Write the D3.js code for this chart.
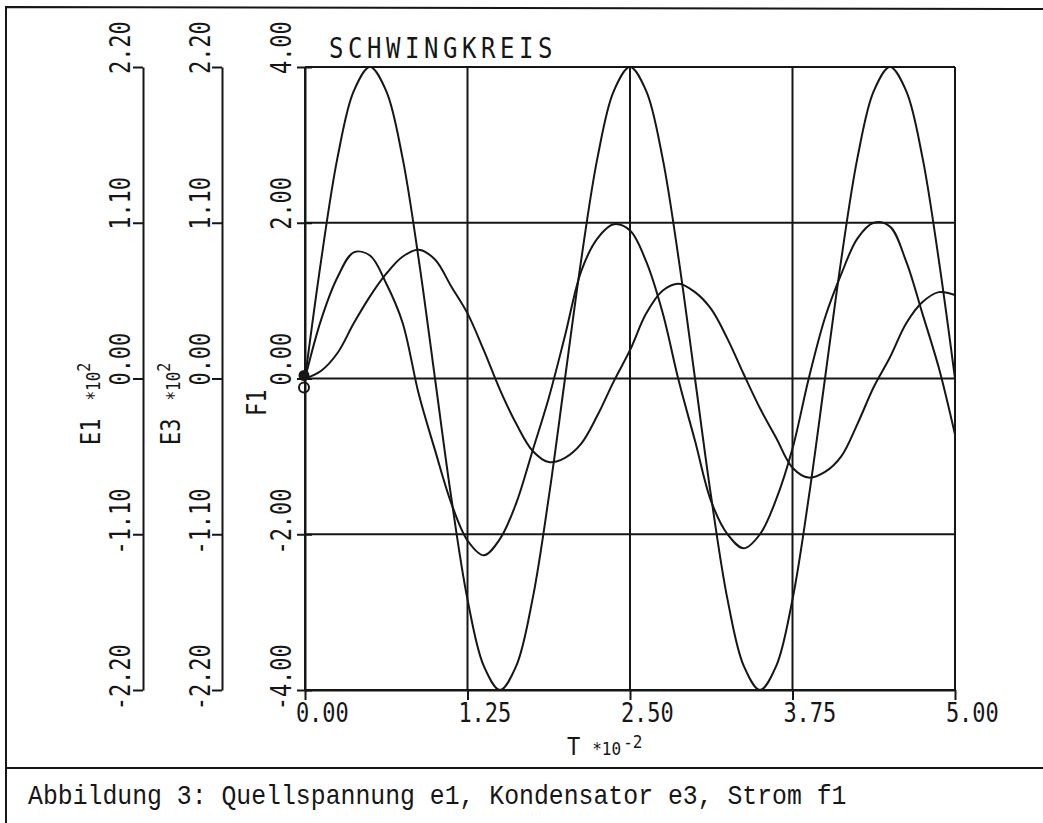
<!DOCTYPE html>
<html><head><meta charset="utf-8">
<script src="https://cdn.jsdelivr.net/npm/d3@7/dist/d3.min.js"></script>
<style>
html,body{margin:0;padding:0;background:#fff;}
svg{display:block;}
</style></head>
<body>
<script>
// ---- data (time in units of 1e-2 s) ----
const T = [0,0.125,0.25,0.375,0.5,0.625,0.75,0.875,
           1,1.125,1.25,1.375,1.5,1.625,1.75,1.875,
           2,2.125,2.25,2.375,2.5,2.625,2.75,2.875,
           3,3.125,3.25,3.375,3.5,3.625,3.75,3.875,
           4,4.125,4.25,4.375,4.5,4.625,4.75,4.875,5];
// source voltage e1 (x 10^2)
const E1 = [0,0.84,1.56,2.03,2.20,2.03,1.56,0.84,
            0,-0.84,-1.56,-2.03,-2.20,-2.03,-1.56,-0.84,
            0,0.84,1.56,2.03,2.20,2.03,1.56,0.84,
            0,-0.84,-1.56,-2.03,-2.20,-2.03,-1.56,-0.84,
            0,0.84,1.56,2.03,2.20,2.03,1.56,0.84,0];
// current f1
const F1 = [0,0.76,1.30,1.62,1.58,1.22,0.72,-0.20,
            -0.92,-1.60,-2.08,-2.27,-2.06,-1.60,-0.93,-0.25,
            0.55,1.38,1.80,1.98,1.90,1.50,0.85,-0.03,
            -0.80,-1.58,-2.00,-2.18,-2.00,-1.55,-0.90,0.00,
            0.78,1.34,1.80,2.00,1.95,1.50,0.83,0.14,-0.72];
// capacitor voltage e3 (x 10^2)
const E3 = [0,0.055,0.18,0.39,0.58,0.74,0.86,0.91,
            0.84,0.65,0.46,0.20,-0.08,-0.32,-0.51,-0.59,
            -0.56,-0.46,-0.26,-0.02,0.20,0.46,0.62,0.67,
            0.61,0.49,0.28,0.03,-0.21,-0.42,-0.63,-0.70,
            -0.66,-0.55,-0.32,-0.06,0.15,0.39,0.54,0.61,0.59];

const tTicks = [0,1.25,2.5,3.75,5];
const tTickLabels = ["0.00","1.25","2.50","3.75","5.00"];
const eTicks = [-2.2,-1.1,0,1.1,2.2];
const eTickLabels = ["-2.20","-1.10","0.00","1.10","2.20"];
const fTicks = [-4,-2,0,2,4];
const fTickLabels = ["-4.00","-2.00","0.00","2.00","4.00"];
const title = "SCHWINGKREIS";
const caption = "Abbildung 3: Quellspannung e1, Kondensator e3, Strom f1";

// ---- layout ----
const W = 1043, H = 823;
const INK = "#161616";
const MONO = "'DejaVu Sans Mono', monospace";
const svg = d3.select("body").append("svg").attr("width", W).attr("height", H);
svg.append("rect").attr("width", W).attr("height", H).attr("fill", "#fff");

const x = d3.scaleLinear().domain([0,5]).range([305,955]);
const yF = d3.scaleLinear().domain([-4,4]).range([690,67]);
const yE1 = d3.scaleLinear().domain([-2.2,2.2]).range([690,67]);
const yE3 = d3.scaleLinear().domain([-2.2,2.2]).range([690,67]);

// frame
svg.append("path").attr("d", `M6,${H} L6,7 L${W},9`).attr("fill","none").attr("stroke",INK).attr("stroke-width",2);
svg.append("line").attr("x1",6).attr("x2",W).attr("y1",768).attr("y2",768).attr("stroke",INK).attr("stroke-width",2);

// grid
const grid = svg.append("g").attr("stroke", INK).attr("stroke-width", 2);
grid.selectAll(".h").data(fTicks).join("line")
  .attr("x1", x(0)).attr("x2", x(5)).attr("y1", d=>yF(d)).attr("y2", d=>yF(d));
grid.selectAll(".v").data(tTicks).join("line")
  .attr("x1", d=>x(d)).attr("x2", d=>x(d)).attr("y1", yF(4)).attr("y2", yF(-4));

const FS = 22, PITCH = FS*0.602, SY = 1.25;

function styleVerticalAxis(g, labels, baseOff){
  g.select(".domain").attr("stroke", INK).attr("stroke-width", 2);
  g.selectAll(".tick line").attr("stroke", INK).attr("stroke-width", 2);
  g.selectAll(".tick text").each(function(d,i){
    const s = labels[i];
    const k = s.search(/\d/);
    d3.select(this)
      .attr("x", -(k+0.5)*PITCH).attr("y", 0).attr("dy", null)
      .attr("text-anchor","start")
      .attr("transform", `translate(${baseOff},0) rotate(-90) scale(1,${SY})`)
      .attr("fill", INK).attr("font-family", MONO).attr("font-size", FS)
      .text(s);
  });
}

// E1 axis
const gE1 = svg.append("g").attr("transform","translate(143,0)")
  .call(d3.axisLeft(yE1).tickValues(eTicks).tickSizeInner(10).tickSizeOuter(0).tickFormat((d,i)=>eTickLabels[i]));
styleVerticalAxis(gE1, eTickLabels, -13);
// E3 axis
const gE3 = svg.append("g").attr("transform","translate(222,0)")
  .call(d3.axisLeft(yE3).tickValues(eTicks).tickSizeInner(10).tickSizeOuter(0).tickFormat((d,i)=>eTickLabels[i]));
styleVerticalAxis(gE3, eTickLabels, -12);
// F1 axis
const gF = svg.append("g").attr("transform","translate(305,0)")
  .call(d3.axisLeft(yF).tickValues(fTicks).tickSizeInner(8).tickSizeOuter(0).tickFormat((d,i)=>fTickLabels[i]));
styleVerticalAxis(gF, fTickLabels, -14);
gF.selectAll(".tick line").attr("x2", 7).attr("x1", -8);

// T axis
const gT = svg.append("g").attr("transform", `translate(0,${yF(-4)})`)
  .call(d3.axisBottom(x).tickValues(tTicks).tickSizeInner(10).tickSizeOuter(0).tickFormat((d,i)=>tTickLabels[i]));
gT.select(".domain").attr("stroke", INK).attr("stroke-width", 2);
gT.selectAll(".tick line").attr("stroke", INK).attr("stroke-width", 2);
gT.selectAll(".tick text").each(function(d,i){
  d3.select(this).attr("x",0).attr("y",0).attr("dy",null)
    .attr("text-anchor","start")
    .attr("transform", `translate(${-0.5*PITCH-3},32) scale(1,1.2)`)
    .attr("fill", INK).attr("font-family", MONO).attr("font-size", FS)
    .text(tTickLabels[i]);
});

// axis titles (rotated)
function vTitle(xb, ybot, name){
  const t = svg.append("text")
    .attr("transform", `translate(${xb},${ybot}) rotate(-90) scale(1,1.2)`)
    .attr("font-family", MONO).attr("fill", INK).attr("font-size", FS);
  t.append("tspan").text(name);
  return t;
}
function addExp(t, exp){
  t.append("tspan").attr("dx", 18).attr("font-size", 16).text("*10");
  t.append("tspan").attr("dy", -8).attr("font-size", 15).text(exp);
}
addExp(vTitle(100, 445, "E1"), "2");
addExp(vTitle(180, 445, "E3"), "2");
vTitle(266, 416, "F1");

// T title
const tt = svg.append("text").attr("transform","translate(567,755) scale(1,1.15)")
  .attr("font-family", MONO).attr("fill", INK).attr("font-size", FS);
tt.append("tspan").text("T");
tt.append("tspan").attr("dx", 12).attr("font-size", 16).text("*10");
tt.append("tspan").attr("dy", -6).attr("dx", 2).attr("font-size", 16).text("-2");

// chart title
svg.append("text").attr("transform","translate(329,58) scale(1,1.2)")
  .attr("font-family", MONO).attr("font-size", 24).attr("letter-spacing", 4.55)
  .attr("fill", INK).text(title);

// curves
const curve = d3.curveCatmullRom.alpha(0.5);
const lineE1 = d3.line().x((d,i)=>x(T[i])).y(d=>yE1(d)).curve(curve);
const lineF1 = d3.line().x((d,i)=>x(T[i])).y(d=>yF(d)).curve(curve);
const lineE3 = d3.line().x((d,i)=>x(T[i])).y(d=>yE3(d)).curve(curve);
const cg = svg.append("g").attr("fill","none").attr("stroke",INK).attr("stroke-width",2).attr("stroke-linejoin","round");
cg.append("path").attr("d", lineE1(E1));
cg.append("path").attr("d", lineF1(F1));
cg.append("path").attr("d", lineE3(E3));

// start markers at the origin
svg.append("circle").attr("cx", x(0)-1).attr("cy", yF(0)-3).attr("r", 4.5)
  .attr("fill", INK).attr("stroke", INK).attr("stroke-width", 2);
svg.append("circle").attr("cx", x(0)-1).attr("cy", yF(0)+9).attr("r", 5)
  .attr("fill", "none").attr("stroke", INK).attr("stroke-width", 2);

// caption
svg.append("text").attr("transform","translate(28,804) scale(1,1.12)")
  .attr("font-family","'Liberation Mono', monospace").attr("font-size", 24.8)
  .attr("fill", INK).text(caption);
</script>
</body></html>
